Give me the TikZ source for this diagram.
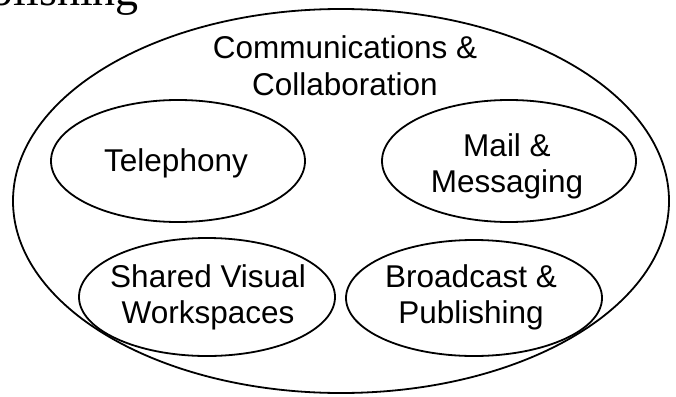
\documentclass[tikz,border=0pt]{standalone}
\usepackage{fontspec}
\setmainfont{Liberation Sans}
\newfontfamily\titleserif{Liberation Serif}
\usetikzlibrary{shapes.geometric}
\begin{document}
\begin{tikzpicture}[x=1pt,y=-1pt,
  ring/.style={draw=black, line width=1.8pt, ellipse, inner sep=0pt},
  lbl/.style={font=\fontsize{31.5}{36}\selectfont, align=center, anchor=base, inner sep=0pt}]
\useasboundingbox (0,0) rectangle (676,396);
\node[font=\titleserif\fontsize{46}{52}\selectfont, anchor=base east, inner sep=0pt] (head) at (139,6) {Publishing};
\node[ring, minimum width=656, minimum height=384] (outer) at (341,201) {};
\node[ring, minimum width=254, minimum height=122] (tel) at (178,161) {};
\node[ring, minimum width=254, minimum height=122] (mail) at (509,161) {};
\node[ring, minimum width=256, minimum height=118] (svw) at (207,297) {};
\node[ring, minimum width=256, minimum height=116] (bp) at (474,298) {};
\node[lbl] (tcc) at (345,95) {Communications \&\\Collaboration};
\node[lbl] (ttel) at (176,171) {Telephony};
\node[lbl] (tmail) at (507,192) {Mail \&\\Messaging};
\node[lbl] (tsvw) at (208,323) {Shared Visual\\Workspaces};
\node[lbl] (tbp) at (471,323) {Broadcast \&\\Publishing};
\end{tikzpicture}
\end{document}
